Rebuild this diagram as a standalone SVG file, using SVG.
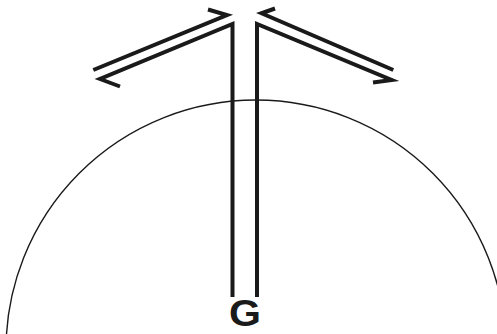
<svg xmlns="http://www.w3.org/2000/svg" width="497" height="334" viewBox="0 0 497 334">
<style>
.thick{fill:none;stroke:#1a1a1a;stroke-width:4;stroke-linejoin:miter;stroke-miterlimit:6;stroke-linecap:butt}
.thin{fill:none;stroke:#1a1a1a;stroke-width:1.4}
.lbl{font-family:"Liberation Sans",Arial,sans-serif;font-weight:bold;font-size:36px;fill:#1a1a1a}
</style>
<rect width="497" height="334" fill="#ffffff"/>
<g id="circle">
<circle class="thin" cx="256" cy="350" r="250"/>
</g>
<g id="connectors">
<polyline class="thick" points="93.3,70 227,15 208,9.5"/>
<polyline class="thick" points="120,86.5 100,79 232.5,24 232.5,297"/>
<polyline class="thick" points="393.3,70 261.5,13.3 275,8.5"/>
<polyline class="thick" points="373,82.5 391.7,80 257,24 257,297"/>
</g>
<g id="G">
<text class="lbl" x="245" y="326" text-anchor="middle" textLength="32" lengthAdjust="spacingAndGlyphs">G</text>
</g>
</svg>
